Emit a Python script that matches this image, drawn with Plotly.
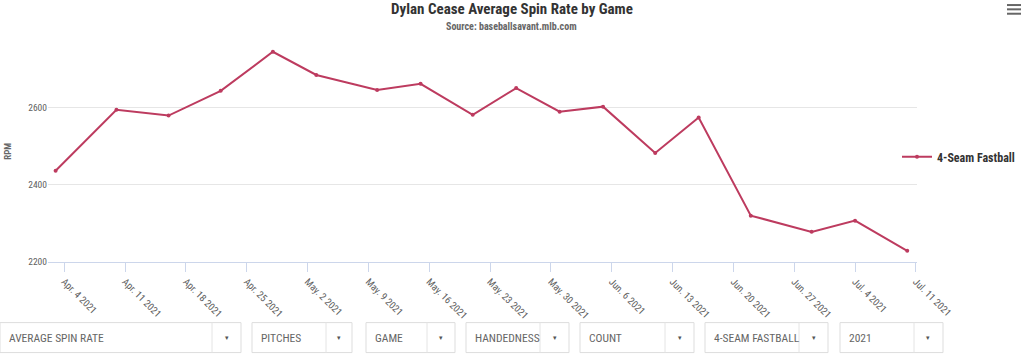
import plotly.graph_objects as go

# ---- data ----
game_dates = ["2021-04-03", "2021-04-10", "2021-04-16", "2021-04-22", "2021-04-28",
              "2021-05-03", "2021-05-10", "2021-05-15", "2021-05-21", "2021-05-26",
              "2021-05-31", "2021-06-05", "2021-06-11", "2021-06-16", "2021-06-22",
              "2021-06-29", "2021-07-04", "2021-07-10"]
spin_rate = [2436, 2594, 2579, 2643, 2744, 2684, 2645, 2661, 2581, 2650,
             2589, 2602, 2482, 2574, 2320, 2278, 2307, 2229]
series_name = "4-Seam Fastball"
y_ticks = [2200, 2400, 2600]
dropdown_labels = ["AVERAGE SPIN RATE", "PITCHES", "GAME", "HANDEDNESS", "COUNT",
                   "4-SEAM FASTBALL", "2021"]

# ---- layout constants (pixels) ----
W, H = 1024, 358
PL, PR, PT, PB = 48, 917, 34, 262.3
COND = "Roboto Condensed, Liberation Sans Narrow, DejaVu Sans Condensed, Roboto, sans-serif"
LINE_COLOR = "#bd3b5f"


def px_x(px):
    return (px - PL) / (PR - PL)


def px_y(py):
    return (PB - py) / (PB - PT)


fig = go.Figure()
fig.add_trace(go.Scatter(
    x=game_dates, y=spin_rate, mode="lines+markers", name="<b>" + series_name + "</b>",
    line=dict(color=LINE_COLOR, width=2),
    marker=dict(color=LINE_COLOR, size=4),
))

shapes = []
annotations = []

# subtitle
annotations.append(dict(
    text="<b>Source: baseballsavant.mlb.com</b>", x=px_x(511), y=px_y(26),
    xref="paper", yref="paper", showarrow=False, xanchor="center", yanchor="middle",
    font=dict(family=COND, size=10, color="#666666")))

# y-axis title
annotations.append(dict(
    text="<b>RPM</b>", x=px_x(8), y=px_y(152), xref="paper", yref="paper",
    showarrow=False, textangle=-90, xanchor="center", yanchor="middle",
    font=dict(family=COND, size=9, color="#666666")))

# hamburger menu icon
for yy in (5, 9.3, 13.7):
    shapes.append(dict(type="line", xref="paper", yref="paper",
                       x0=px_x(1007), x1=px_x(1021), y0=px_y(yy), y1=px_y(yy),
                       line=dict(color="#666666", width=2)))

# dropdown boxes (left, divider, right)
boxes = [(0, 212, 241), (252, 326, 352), (366, 427, 455), (466, 540, 569),
         (580, 665, 694), (705, 799, 828), (840, 914, 943)]
by0, by1 = 323, 353
for (bl, bd, br), lab in zip(boxes, dropdown_labels):
    shapes.append(dict(type="rect", xref="paper", yref="paper",
                       x0=px_x(bl), x1=px_x(br), y0=px_y(by1), y1=px_y(by0),
                       line=dict(color="#dddddd", width=1), fillcolor="white"))
    shapes.append(dict(type="line", xref="paper", yref="paper",
                       x0=px_x(bd), x1=px_x(bd), y0=px_y(by1), y1=px_y(by0),
                       line=dict(color="#e4e4e4", width=1)))
    annotations.append(dict(
        text=lab, x=px_x(bl + 7), y=px_y((by0 + by1) / 2), xref="paper", yref="paper",
        showarrow=False, xanchor="left", yanchor="middle",
        font=dict(family=COND, size=11.5, color="#666666")))
    annotations.append(dict(
        text="▾", x=px_x((bd + br) / 2), y=px_y((by0 + by1) / 2), xref="paper", yref="paper",
        showarrow=False, xanchor="center", yanchor="middle",
        font=dict(family="DejaVu Sans", size=7, color="#555555")))

fig.update_layout(
    width=W, height=H,
    margin=dict(l=PL, r=W - PR, t=PT, b=H - PB, pad=0, autoexpand=False),
    paper_bgcolor="white", plot_bgcolor="white",
    title=dict(text="<b>Dylan Cease Average Spin Rate by Game</b>",
               x=0.5, xref="container", xanchor="center",
               y=1 - 9 / H, yref="container", yanchor="middle",
               font=dict(family=COND, size=15, color="#333333")),
    showlegend=True,
    legend=dict(x=px_x(897), y=px_y(157), xanchor="left", yanchor="middle",
                font=dict(family=COND, size=12, color="#333333"),
                itemwidth=30, bgcolor="rgba(0,0,0,0)"),
    shapes=shapes, annotations=annotations,
    xaxis=dict(
        type="date", range=["2021-04-02 03:00", "2021-07-11 03:00"],
        tick0="2021-04-04", dtick=7 * 86400000, tickformat="%b. %-d %Y",
        tickangle=45, ticks="outside", ticklen=9, tickcolor="#ccd6eb",
        showline=True, linecolor="#ccd6eb", linewidth=1, showgrid=False, zeroline=False,
        tickfont=dict(family=COND, size=10, color="#606060"), automargin=False,
    ),
    yaxis=dict(
        range=[2200, 2790], tickvals=y_ticks, showgrid=True, gridcolor="#e6e6e6",
        zeroline=False, showline=False, ticks="", automargin=False,
        tickfont=dict(family=COND, size=9.5, color="#606060"),
    ),
)

fig.write_html("out.html", post_script="document.body.style.margin='0';",
               config={"displayModeBar": False})
